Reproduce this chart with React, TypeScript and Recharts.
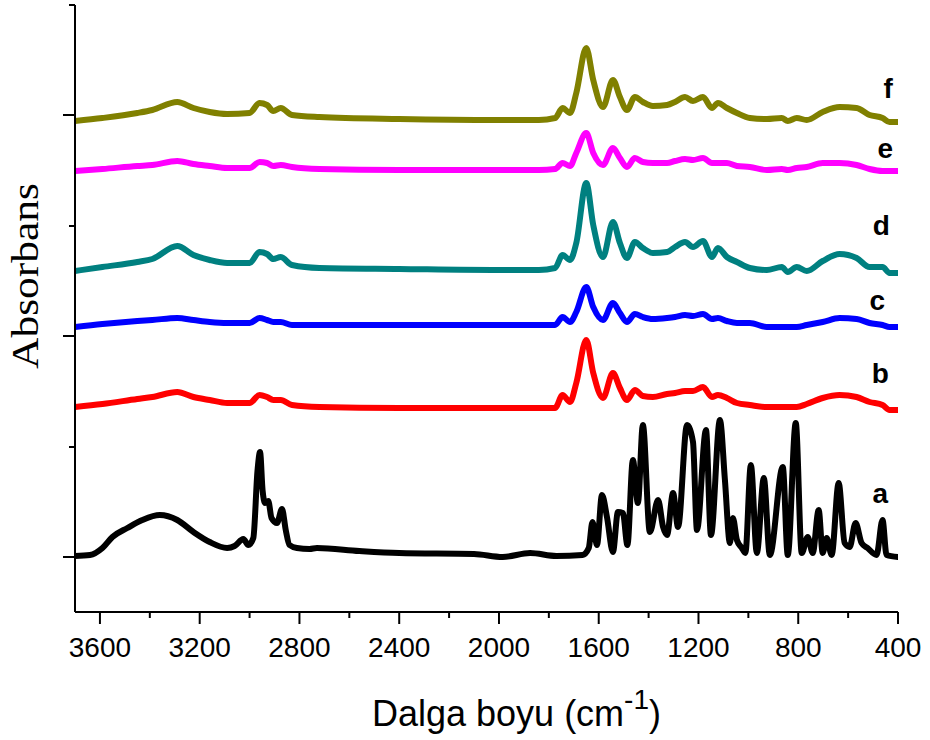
import React from 'react';
import { LineChart, Line, XAxis, YAxis, ReferenceDot } from 'recharts';

const SANS = '"Liberation Sans", Arial, sans-serif';
const SERIF = '"Liberation Serif", "Times New Roman", serif';

// shared wavenumber grid (cm-1) for the modified samples b..f
const WAVENUMBERS = [
  3700, 3590, 3450, 3390, 3290, 3225, 3160, 3090, 3000, 2960, 2930, 2905, 2875, 2830, 2720, 2400, 2000,
  1840, 1775, 1745, 1715, 1690, 1650, 1622, 1583, 1543, 1515, 1487, 1455, 1423, 1383, 1326, 1294, 1254,
  1222, 1182, 1146, 1122, 1086, 1046, 994, 926, 866, 842, 806, 766, 702, 634, 566, 514, 462, 434, 400,
];

// absorbance, arbitrary units, stacked
const SERIES_B = [
  150, 153, 158, 160, 165, 160, 157, 154, 154, 162, 160, 157, 157, 152, 150, 149, 149,
  149, 149, 162, 155, 174, 217, 184, 159, 184, 169, 157, 167, 161, 160, 163, 164, 166,
  166, 170, 160, 162, 159, 154, 152, 150, 150, 150, 150, 153, 159, 162, 160, 155, 152, 147, 147,
];
const SERIES_C = [
  230, 233, 236, 237, 239, 237, 235, 234, 234, 239, 237, 235, 235, 232, 232, 232, 232,
  232, 232, 240, 235, 245, 270, 250, 237, 254, 244, 235, 243, 240, 238, 239, 240, 242,
  241, 243, 238, 239, 236, 234, 234, 230, 230, 230, 230, 232, 235, 239, 238, 234, 232, 230, 230,
];
const SERIES_D = [
  286, 290, 295, 298, 311, 302, 297, 294, 294, 305, 303, 298, 300, 292, 289, 288, 287,
  287, 289, 302, 297, 314, 374, 332, 300, 335, 314, 299, 315, 309, 304, 305, 310, 315,
  310, 316, 300, 309, 300, 295, 289, 287, 290, 285, 290, 286, 296, 303, 299, 290, 290, 284, 284,
];
const SERIES_E = [
  386, 388, 391, 392, 396, 393, 391, 389, 389, 395, 394, 391, 392, 390, 388, 387, 387,
  387, 388, 394, 391, 404, 424, 404, 392, 409, 399, 390, 399, 395, 394, 394, 396, 398,
  397, 399, 394, 394, 394, 391, 390, 387, 388, 387, 389, 390, 394, 394, 392, 388, 386, 386, 386,
];
const SERIES_F = [
  436, 439, 444, 447, 455, 449, 445, 443, 444, 454, 452, 446, 449, 442, 440, 438, 437,
  437, 439, 449, 444, 464, 509, 477, 450, 477, 460, 447, 460, 455, 451, 452, 455, 460,
  456, 460, 449, 454, 449, 444, 439, 438, 439, 436, 439, 437, 445, 450, 449, 442, 439, 435, 435,
];

// raw sample a has its own, denser grid
const A_WAVENUMBERS = [
  3700, 3640, 3590, 3550, 3490, 3430, 3360, 3290, 3225, 3160, 3090, 3060, 3025, 3005, 2985, 2968, 2958,
  2948, 2938, 2925, 2912, 2890, 2870, 2855, 2840, 2810, 2760, 2730, 2560, 2400, 2100, 1985, 1875, 1770,
  1665, 1640, 1625, 1607, 1587, 1567, 1543, 1523, 1503, 1485, 1463, 1443, 1423, 1395, 1362, 1342, 1326,
  1302, 1282, 1246, 1222, 1206, 1170, 1150, 1114, 1094, 1074, 1062, 1046, 1026, 1012, 990, 966, 938,
  914, 862, 842, 810, 786, 762, 742, 718, 702, 686, 666, 638, 614, 594, 570, 546, 522, 486, 462, 446, 400,
];
const SERIES_A = [
  1, 2, 9, 20, 29, 37, 42, 37, 25, 15, 9, 11, 18, 12, 19, 87, 105,
  67, 54, 56, 39, 34, 48, 27, 12, 9, 8, 9, 6, 4, 3, 0, 4, 1,
  2, 9, 35, 12, 62, 40, 5, 45, 44, 12, 97, 54, 132, 25, 57, 30, 22,
  64, 30, 132, 115, 27, 127, 22, 137, 77, 14, 39, 17, 9, 4, 92, 4, 79,
  2, 90, 2, 134, 4, 20, 4, 47, 4, 19, 2, 74, 14, 10, 34, 14, 9, 2, 37, 2, 0,
];

const SERIES = [
  { key: 'a', color: '#000000', wn: A_WAVENUMBERS, values: SERIES_A },
  { key: 'b', color: '#ff0000', wn: WAVENUMBERS, values: SERIES_B },
  { key: 'c', color: '#0000ff', wn: WAVENUMBERS, values: SERIES_C },
  { key: 'd', color: '#008080', wn: WAVENUMBERS, values: SERIES_D },
  { key: 'e', color: '#ff00ff', wn: WAVENUMBERS, values: SERIES_E },
  { key: 'f', color: '#808000', wn: WAVENUMBERS, values: SERIES_F },
];

// curve letters placed next to the right end of each trace
const LABEL_NAMES = ['a', 'b', 'c', 'd', 'e', 'f'];
const LABEL_WN = [471, 471, 483, 467, 451, 439];
const LABEL_LEVEL = [54, 174, 247, 322, 399, 459];

const X_TICKS = [3600, 3400, 3200, 3000, 2800, 2600, 2400, 2200, 2000, 1800, 1600, 1400, 1200, 1000, 800, 600, 400];
const X_LABELED = [3600, 3200, 2800, 2400, 2000, 1600, 1200, 800, 400];
const Y_TICKS = [0, 110, 221, 331, 442, 552];
const Y_MAJOR = [0, 221, 442];

const XTick = (props: any) => {
  const { x, y, payload } = props;
  const major = X_LABELED.includes(payload.value);
  return (
    <g>
      <line x1={x} x2={x} y1={y} y2={y + (major ? 12 : 6)} stroke="#000" strokeWidth={2} />
      {major && (
        <text x={x} y={y + 45} textAnchor="middle" fontSize={28} fontFamily={SANS} fill="#000">
          {payload.value}
        </text>
      )}
    </g>
  );
};

const YTick = (props: any) => {
  const { x, y, payload } = props;
  const major = Y_MAJOR.includes(payload.value);
  return <line x1={x} x2={x - (major ? 12 : 6)} y1={y} y2={y} stroke="#000" strokeWidth={2} />;
};

const XTitle = () => (
  <text x={372} y={726} fontSize={36} fontFamily={SANS} fill="#000">
    Dalga boyu (cm
    <tspan fontSize={28} dy={-17}>-1</tspan>
    <tspan dy={17}>)</tspan>
  </text>
);

const YTitle = () => (
  <text
    transform="translate(38,276) rotate(-90)"
    textAnchor="middle"
    fontSize={38}
    fontFamily={SERIF}
    fill="#000"
    textLength={186}
    lengthAdjust="spacingAndGlyphs"
  >
    Absorbans
  </text>
);

export default function App() {
  return (
    <div style={{ position: 'absolute', left: 0, top: 0, width: 930, height: 740, background: '#fff' }}>
      <LineChart width={930} height={740} margin={{ top: 5, right: 32, bottom: 28, left: 35 }}>
        <XAxis
          type="number"
          dataKey="wn"
          domain={[400, 3700]}
          reversed
          allowDataOverflow
          ticks={X_TICKS}
          interval={0}
          height={100}
          tickSize={0}
          tickMargin={0}
          tickLine={false}
          tick={<XTick />}
          axisLine={{ stroke: '#000', strokeWidth: 2 }}
          label={{ content: <XTitle /> }}
        />
        <YAxis
          type="number"
          domain={[-55, 552]}
          allowDataOverflow
          ticks={Y_TICKS}
          interval={0}
          width={40}
          tickSize={0}
          tickMargin={0}
          tickLine={false}
          tick={<YTick />}
          axisLine={{ stroke: '#000', strokeWidth: 2 }}
          label={{ content: <YTitle /> }}
        />
        {SERIES.map((s) => (
          <Line
            key={s.key}
            data={s.wn.map((wn, i) => ({ wn, v: s.values[i] }))}
            dataKey="v"
            type="monotone"
            stroke={s.color}
            strokeWidth={6}
            strokeLinejoin="round"
            strokeLinecap="round"
            dot={false}
            activeDot={false}
            isAnimationActive={false}
          />
        ))}
        {LABEL_NAMES.map((name, i) => (
          <ReferenceDot
            key={name}
            x={LABEL_WN[i]}
            y={LABEL_LEVEL[i]}
            r={0}
            fill="none"
            stroke="none"
            label={{
              content: (p: any) => (
                <text
                  x={p.viewBox.x + (p.viewBox.width || 0) / 2}
                  y={p.viewBox.y + (p.viewBox.height || 0) / 2}
                  textAnchor="middle"
                  fontSize={28}
                  fontWeight="bold"
                  fontFamily={SANS}
                  fill="#000"
                >
                  {name}
                </text>
              ),
            }}
          />
        ))}
      </LineChart>
    </div>
  );
}
